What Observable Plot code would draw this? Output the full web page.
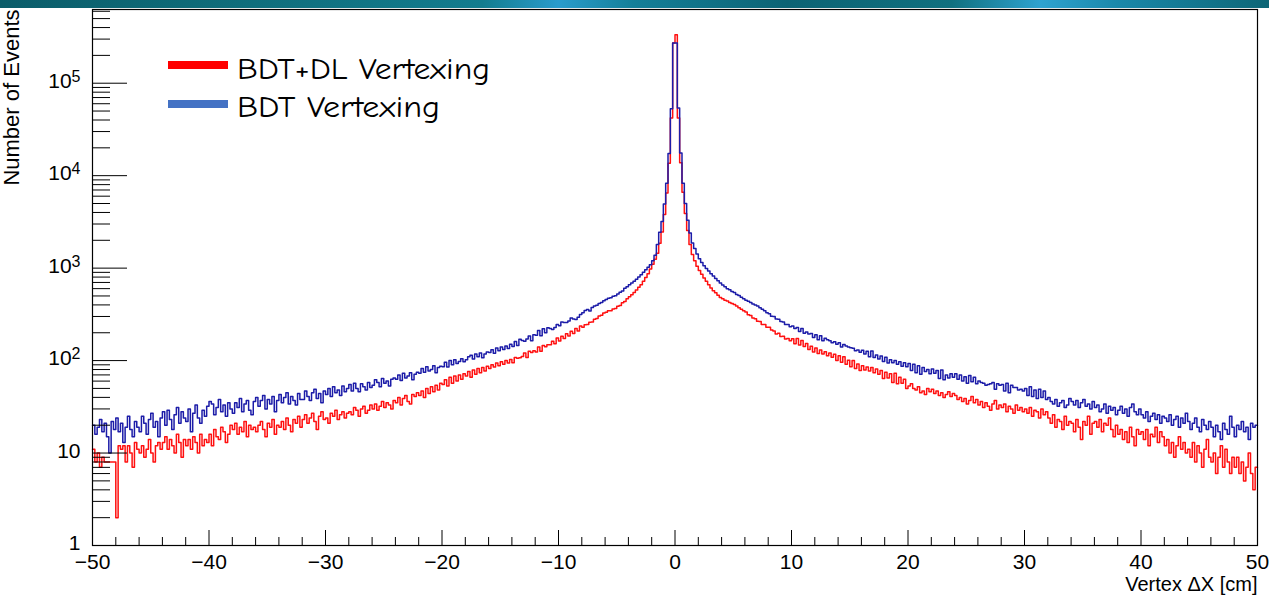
<!DOCTYPE html>
<html><head><meta charset="utf-8">
<script src="https://cdn.jsdelivr.net/npm/d3@7"></script>
<script src="https://cdn.jsdelivr.net/npm/@observablehq/plot@0.6"></script>
<style>
body{margin:0;background:#fff;}
#wrap{position:relative;width:1269px;height:597px;overflow:hidden;background:#fff;}
#banner{position:absolute;left:0;top:0;width:1269px;height:8px;
background:linear-gradient(90deg,#0b5d6a 0%,#0f6e7c 20%,#137c8e 38%,#2a9ccc 44%,#147f98 50%,#0c6374 62%,#10707f 75%,#2fa3d0 82%,#1a88aa 88%,#0d6676 100%);}
</style></head><body>
<div id="wrap"><div id="chart"></div><div id="banner"></div></div>
<script>
const xMin = -50, xMax = 50;
// BDT+DL Vertexing (red), 500 bins of 0.2 cm from -50 to 50
const bdtdl = [
11,8,10,7,9,8,8,8,8,8,
2,12,11,12,8,12,10,7,13,11,
10,12,9,11,14,10,8,12,13,11,
13,15,11,14,12,10,16,13,9,14,
12,14,11,15,13,10,16,12,14,13,
16,12,18,15,14,19,17,13,16,20,
18,21,16,19,17,22,15,20,18,19,
17,20,22,18,15,21,19,23,16,20,
19,22,18,24,20,17,23,21,25,19,
23,26,21,24,27,22,18,25,28,23,
24,21,27,25,29,23,26,28,24,27,
28,26,31,29,25,30,32,27,29,33,
30,34,29,32,36,31,35,33,30,37,
35,40,33,39,42,36,34,43,41,45,
42,47,40,50,44,52,46,54,48,57,
55,62,53,66,57,68,60,70,63,72,
68,76,66,79,71,82,74,84,77,87,
82,90,85,94,88,97,91,100,94,103,
95,108,106,107,111,121,108,126,122,128,
124,140,126,146,141,148,148,162,152,175,
163,183,173,195,185,207,196,222,209,236,
229,244,245,260,262,280,285,304,309,328,
333,346,347,362,366,386,394,422,436,466,
490,515,545,580,620,660,720,790,870,980,
1100,1250,1450,1860,2460,3800,6500,13600,42000,272000,
335000,42000,13800,6600,3900,2550,1800,1400,1200,1050,
940,860,780,720,660,610,570,540,510,480,
465,450,440,425,415,405,390,372,360,345,
336,314,308,288,283,266,265,246,245,230,
230,214,209,194,197,182,183,171,173,164,
172,152,173,147,165,142,153,132,143,124,
137,119,130,118,125,113,121,109,117,100,
113,96,110,91,101,86,100,82,92,78,
88,79,85,77,84,74,81,71,78,64,
75,65,72,58,73,56,66,57,63,50,
53,56,50,48,52,45,47,43,50,46,
49,44,47,42,45,40,43,46,41,44,
42,38,40,36,39,34,37,41,35,38,
33,36,31,35,32,29,34,37,30,33,
31,34,28,32,30,27,33,29,31,28,
30,27,31,25,29,28,24,30,26,28,
24,21,26,19,23,22,18,25,20,22,
21,17,23,19,14,22,20,25,16,21,
22,19,23,17,21,20,24,18,15,20,
16,18,14,17,13,19,15,12,18,16,
17,14,18,12,16,15,19,13,17,15,
12,14,10,13,9,12,15,11,13,10,
11,9,13,8,12,10,7,11,14,9,
8,10,6,9,12,7,11,8,6,9,
7,9,6,8,5,7,10,6,4,7
];
// BDT Vertexing (blue)
const bdt = [
20,16,19,23,17,21,15,10,22,18,
24,17,21,13,19,25,18,15,22,19,
17,25,21,16,23,27,19,22,15,24,
28,20,29,23,18,26,31,21,28,24,
22,30,17,27,33,24,21,29,25,32,
36,34,26,31,38,28,33,25,35,30,
27,35,31,39,28,34,37,29,26,36,
40,32,37,42,30,38,34,41,28,37,
43,35,40,45,34,41,37,33,44,38,
38,47,41,37,45,49,39,44,35,47,
43,50,41,52,45,48,42,53,46,50,
55,47,57,50,46,56,52,48,58,51,
54,62,58,52,64,57,60,53,63,65,
63,70,61,73,65,68,74,62,71,75,
73,82,75,86,77,80,88,74,84,87,
86,96,85,100,90,102,93,98,105,97,
102,110,114,104,118,110,121,107,118,124,
122,131,120,137,128,140,132,144,135,150,
142,161,146,170,165,162,171,185,164,190,
188,212,186,221,200,227,222,217,228,246,
238,262,258,258,268,288,281,279,295,315,
330,348,358,344,374,390,396,414,424,444,
458,472,478,496,502,526,548,566,604,628,
660,690,720,760,800,850,900,960,1020,1090,
1200,1380,1800,2450,3200,4950,8300,17400,53000,272000,
272000,54000,17600,8300,5000,3300,2400,1870,1630,1420,
1260,1150,1060,990,930,870,820,770,730,690,
655,630,600,585,560,545,520,505,485,465,
450,438,425,410,398,390,372,360,345,330,
322,302,300,282,280,264,262,246,246,232,
236,222,228,206,222,198,204,194,196,178,
190,168,186,164,174,168,164,156,160,150,
156,140,149,144,140,138,136,128,130,123,
129,118,126,110,127,108,115,104,112,98,
109,94,102,95,100,91,97,87,95,86,
93,78,91,74,88,71,84,76,80,72,
81,73,78,64,79,62,70,65,72,66,
72,63,70,60,67,57,69,59,66,56,
60,58,57,54,55,56,58,49,56,54,
55,47,57,45,54,51,51,48,49,47,
50,42,52,41,48,39,49,40,47,38,
40,36,34,38,32,35,37,31,33,39,
36,33,37,31,35,38,32,34,30,36,
31,33,28,30,34,27,32,29,31,26,
29,32,27,30,25,31,34,28,26,30,
26,24,28,22,25,27,23,26,21,25,
24,22,26,20,23,25,19,24,21,27,
22,18,21,24,19,17,23,20,18,22,
19,15,20,17,14,21,18,16,25,19,
15,20,18,22,17,19,14,21,19,20
];
const seriesNames = ["BDT+DL Vertexing", "BDT Vertexing"];
const seriesColors = ["#ff1010", "#1c1ca8"];
const legendColors = ["#ff0000", "#4472c4"];
const xMajorTicks = [-50,-40,-30,-20,-10,0,10,20,30,40,50];
const xMinorTicks = [-48,-46,-44,-42,-38,-36,-34,-32,-28,-26,-24,-22,-18,-16,-14,-12,-8,-6,-4,-2,2,4,6,8,12,14,16,18,22,24,26,28,32,34,36,38,42,44,46,48];
const yMajorTicks = [1,10,100,1000,10000,100000];
const yMinorTicks = [2,3,4,5,6,7,8,9,20,30,40,50,60,70,80,90,200,300,400,500,600,700,800,900,
  2000,3000,4000,5000,6000,7000,8000,9000,20000,30000,40000,50000,60000,70000,80000,90000,
  200000,300000,400000,500000,600000];
const yMax = 6.27e5;

function steps(vals) {
  const w = (xMax - xMin) / vals.length;
  const pts = vals.map((v, i) => ({x: xMin + i * w, y: v}));
  pts.push({x: xMax, y: vals[vals.length - 1]});
  return pts;
}

const W = 1269, H = 597, mL = 92, mR = 12, mT = 9, mB = 52;
const fw = W - mL - mR, fh = H - mT - mB;

const chart = Plot.plot({
  width: W, height: H,
  marginLeft: mL, marginRight: mR, marginTop: mT, marginBottom: mB,
  style: {fontFamily: "'Liberation Sans', Arial, Helvetica, sans-serif", background: "transparent", color: "black"},
  x: {domain: [xMin, xMax]},
  y: {type: "log", domain: [1, yMax]},
  marks: [
    Plot.line(steps(bdtdl), {x: "x", y: "y", curve: "step-after", stroke: seriesColors[0], strokeWidth: 1.5}),
    Plot.line(steps(bdt), {x: "x", y: "y", curve: "step-after", stroke: seriesColors[1], strokeWidth: 1.5}),
    Plot.ruleX(xMinorTicks, {x: d => d, insetTop: fh - 8, stroke: "black", strokeWidth: 1}),
    Plot.ruleX(xMajorTicks, {x: d => d, insetTop: fh - 15, stroke: "black", strokeWidth: 1}),
    Plot.ruleY(yMinorTicks, {y: d => d, insetRight: fw - 18, stroke: "black", strokeWidth: 1}),
    Plot.ruleY(yMajorTicks, {y: d => d, insetRight: fw - 35, stroke: "black", strokeWidth: 1}),
    Plot.frame({stroke: "black", strokeWidth: 1.2}),
    Plot.axisX({ticks: xMajorTicks, tickSize: 0, tickPadding: 9, fontSize: 21, label: null}),
    Plot.axisY({ticks: yMajorTicks, tickSize: 0, tickPadding: 12, fontSize: 21, label: null, dy: -2,
      tickFormat: d => d < 100 ? String(d) : "10^" + Math.round(Math.log10(d))}),
    Plot.text(["Vertex \u0394X [cm]"], {frameAnchor: "bottom-right", textAnchor: "end", lineAnchor: "bottom", dy: 45, fontSize: 20}),
    Plot.text(["Number of Events"], {frameAnchor: "top-left", rotate: -90, textAnchor: "end", lineAnchor: "bottom", dx: -74, dy: 0, fontSize: 22})
  ]
});

// superscripts for decade labels
chart.querySelectorAll("text").forEach(t => {
  const s = t.textContent;
  if (s.startsWith("10^")) {
    const exp = s.slice(3);
    while (t.firstChild) t.removeChild(t.firstChild);
    const ns = "http://www.w3.org/2000/svg";
    const a = document.createElementNS(ns, "tspan"); a.textContent = "10";
    const b = document.createElementNS(ns, "tspan"); b.textContent = exp;
    b.setAttribute("font-size", "16"); b.setAttribute("dy", "-6");
    t.appendChild(a); t.appendChild(b);
  }
});

// legend
const svg = d3.select(chart);
const lg = svg.append("g").attr("aria-label", "legend");
const legendRows = [{y: 65, base: 79, len: 253}, {y: 104, base: 117, len: 203}];
seriesNames.forEach((name, i) => {
  lg.append("rect").attr("x", 168).attr("y", legendRows[i].y - 4).attr("width", 60).attr("height", 8).attr("fill", legendColors[i]);
  lg.append("text").attr("x", 237).attr("y", legendRows[i].base)
    .attr("text-anchor", "start")
    .attr("font-family", "'Comic Sans MS', 'Comic Neue', 'DejaVu Sans', sans-serif")
    .attr("font-size", 31).attr("fill", "black")
    .attr("textLength", legendRows[i].len).attr("lengthAdjust", "spacingAndGlyphs")
    .text(name);
});

document.getElementById("chart").appendChild(chart);
</script>
</body></html>
